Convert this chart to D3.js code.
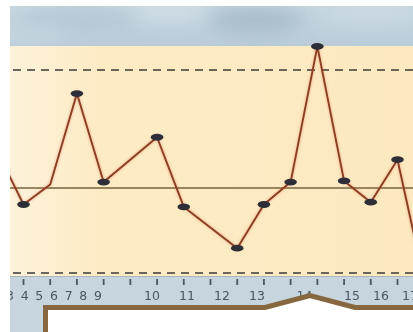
<!DOCTYPE html>
<html>
<head>
<meta charset="utf-8">
<script src="https://cdn.jsdelivr.net/npm/d3@7"></script>
<style>
  html, body { margin: 0; padding: 0; background: #ffffff; }
  svg { display: block; }
</style>
</head>
<body>
<div id="chart"></div>
<script>
// Control chart: sample measurements against centre line and control limits.
const samples = [0, 1, 2, 3, 4, 6, 7, 9, 10, 11, 12, 13, 14, 15, 16];
const values  = [13.2, 8.6, 10.3, 18.0, 10.5, 14.3, 8.4, 4.9, 8.6, 10.5, 22.0, 10.6, 8.8, 12.4, 2.1];
const unmarkedSamples = [0, 2, 16];
const tickSamples = [1, 2, 3, 4, 5, 6, 7, 8, 9, 10, 11, 12, 13, 14, 15];
const tickLabels = [3, 4, 5, 6, 7, 8, 9, 10, 11, 12, 13, 14, 15, 16, 17];
const centreLine = 10;
const upperLimit = 20;
const lowerLimit = 2.8;

const W = 413, H = 332;
const panel = { left: 10, top: 6, right: 413, skyBottom: 46, plotBottom: 276 };

const svg = d3.select("#chart").append("svg")
  .attr("width", W).attr("height", H);

const defs = svg.append("defs");

const creamGrad = defs.append("linearGradient").attr("id", "cream")
  .attr("x1", 0).attr("x2", 1).attr("y1", 0).attr("y2", 0);
creamGrad.append("stop").attr("offset", "0%").attr("stop-color", "#fdf2da");
creamGrad.append("stop").attr("offset", "22%").attr("stop-color", "#fdebc4");
creamGrad.append("stop").attr("offset", "100%").attr("stop-color", "#fce9c0");

const skyGrad = defs.append("linearGradient").attr("id", "sky")
  .attr("x1", 0).attr("x2", 0).attr("y1", 0).attr("y2", 1);
skyGrad.append("stop").attr("offset", "0%").attr("stop-color", "#c6d6e0");
skyGrad.append("stop").attr("offset", "100%").attr("stop-color", "#b9ccd8");

const cloudBlur = defs.append("filter").attr("id", "cloudBlur")
  .attr("x", "-50%").attr("y", "-50%").attr("width", "200%").attr("height", "200%");
cloudBlur.append("feGaussianBlur").attr("stdDeviation", 9);

const dotBlur = defs.append("filter").attr("id", "dotBlur")
  .attr("x", "-50%").attr("y", "-50%").attr("width", "200%").attr("height", "200%");
dotBlur.append("feGaussianBlur").attr("stdDeviation", 0.7);

const lineGlow = defs.append("filter").attr("id", "lineGlow")
  .attr("x", "-10%").attr("y", "-10%").attr("width", "120%").attr("height", "120%");
lineGlow.append("feGaussianBlur").attr("stdDeviation", 1.2);

const textBlur = defs.append("filter").attr("id", "textBlur");
textBlur.append("feGaussianBlur").attr("stdDeviation", 0.35);

defs.append("clipPath").attr("id", "skyClip").append("rect")
  .attr("x", panel.left).attr("y", panel.top)
  .attr("width", panel.right - panel.left).attr("height", panel.skyBottom - panel.top);

defs.append("clipPath").attr("id", "plotClip").append("rect")
  .attr("x", panel.left).attr("y", panel.top)
  .attr("width", panel.right - panel.left).attr("height", panel.plotBottom - panel.top);

defs.append("clipPath").attr("id", "axisClip").append("rect")
  .attr("x", panel.left).attr("y", panel.plotBottom)
  .attr("width", panel.right - panel.left).attr("height", H - panel.plotBottom);

// Sky band with soft cloud patches
const sky = svg.append("g").attr("clip-path", "url(#skyClip)");
sky.append("rect")
  .attr("x", panel.left).attr("y", panel.top)
  .attr("width", panel.right - panel.left).attr("height", panel.skyBottom - panel.top)
  .attr("fill", "url(#sky)");
const clouds = [
  { cx: 80, cy: 20, rx: 60, ry: 11, c: "#aec3d0", o: 0.7 },
  { cx: 255, cy: 20, rx: 50, ry: 13, c: "#a2b8c7", o: 0.8 },
  { cx: 170, cy: 12, rx: 40, ry: 8, c: "#d5e1e8", o: 0.8 },
  { cx: 370, cy: 16, rx: 50, ry: 10, c: "#cfdce5", o: 0.7 },
  { cx: 30, cy: 36, rx: 40, ry: 8, c: "#cad9e2", o: 0.7 }
];
sky.selectAll("ellipse").data(clouds).join("ellipse")
  .attr("cx", d => d.cx).attr("cy", d => d.cy)
  .attr("rx", d => d.rx).attr("ry", d => d.ry)
  .attr("fill", d => d.c).attr("opacity", d => d.o)
  .attr("filter", "url(#cloudBlur)");

// Cream plotting field
svg.append("rect")
  .attr("x", panel.left).attr("y", panel.skyBottom)
  .attr("width", panel.right - panel.left).attr("height", panel.plotBottom - panel.skyBottom)
  .attr("fill", "url(#cream)");

// Axis band
svg.append("rect")
  .attr("x", panel.left).attr("y", panel.plotBottom)
  .attr("width", panel.right - panel.left).attr("height", H - panel.plotBottom)
  .attr("fill", "#c6d5de");
svg.append("line")
  .attr("x1", panel.left).attr("x2", panel.right)
  .attr("y1", panel.plotBottom + 0.5).attr("y2", panel.plotBottom + 0.5)
  .attr("stroke", "#a9b6bd").attr("stroke-width", 1);

// Scales
const x = d3.scaleLinear().domain([1, 15]).range([23.5, 397.5]);
const y = d3.scaleLinear().domain([0, 25]).range([306, 11]);

// Control limits and centre line
const limits = svg.append("g");
[upperLimit, lowerLimit].forEach(v => {
  limits.append("line")
    .attr("x1", panel.left + 3).attr("x2", panel.right)
    .attr("y1", y(v)).attr("y2", y(v))
    .attr("stroke", "#3b3a36").attr("stroke-width", 1.6)
    .attr("stroke-dasharray", "8,6");
});
limits.append("line")
  .attr("x1", panel.left).attr("x2", panel.right)
  .attr("y1", y(centreLine)).attr("y2", y(centreLine))
  .attr("stroke", "#76633f").attr("stroke-width", 1.3);

// Sample series
const pts = samples.map((s, i) => ({ s, v: values[i] }));
const line = d3.line().x(d => x(d.s)).y(d => y(d.v));
const series = svg.append("g").attr("clip-path", "url(#plotClip)");
series.append("path").datum(pts)
  .attr("d", line).attr("fill", "none")
  .attr("stroke", "#e0553a").attr("stroke-width", 3.5).attr("opacity", 0.25)
  .attr("filter", "url(#lineGlow)");
series.append("path").datum(pts)
  .attr("d", line).attr("fill", "none")
  .attr("stroke", "#8a3e22").attr("stroke-width", 1.9)
  .attr("stroke-linejoin", "round");
series.selectAll("ellipse.pt")
  .data(pts.filter(d => !unmarkedSamples.includes(d.s)))
  .join("ellipse").attr("class", "pt")
  .attr("cx", d => x(d.s)).attr("cy", d => y(d.v))
  .attr("rx", 6.3).attr("ry", 3.4)
  .attr("fill", "#2d2e38")
  .attr("filter", "url(#dotBlur)");

// Axis ticks and labels
const axis = svg.append("g").attr("clip-path", "url(#axisClip)");
axis.selectAll("line.tick").data(tickSamples).join("line").attr("class", "tick")
  .attr("x1", d => x(d)).attr("x2", d => x(d))
  .attr("y1", 279).attr("y2", 285)
  .attr("stroke", "#4d5660").attr("stroke-width", 1.8);
const labelX = d3.scaleLinear()
  .domain([3, 9, 10, 13, 15, 17])
  .range([10, 98, 152, 257, 352, 410]);
axis.selectAll("text").data(tickLabels).join("text")
  .attr("x", d => labelX(d)).attr("y", 300)
  .attr("text-anchor", "middle")
  .attr("font-family", "DejaVu Sans, sans-serif").attr("font-size", 12.5)
  .attr("fill", "#4b5761")
  .attr("filter", "url(#textBlur)")
  .text(d => d);

// Callout box pointing up at the chart
const boxLeft = 45.5, boxTop = 307.5;
svg.append("path")
  .attr("d", `M${boxLeft},${H + 5} L${boxLeft},${boxTop} L265,${boxTop} L310,295.5 L355,${boxTop} L${W + 5},${boxTop} L${W + 5},${H + 5} Z`)
  .attr("fill", "#ffffff")
  .attr("stroke", "#87673f").attr("stroke-width", 5)
  .attr("stroke-linejoin", "miter");
</script>
</body>
</html>
